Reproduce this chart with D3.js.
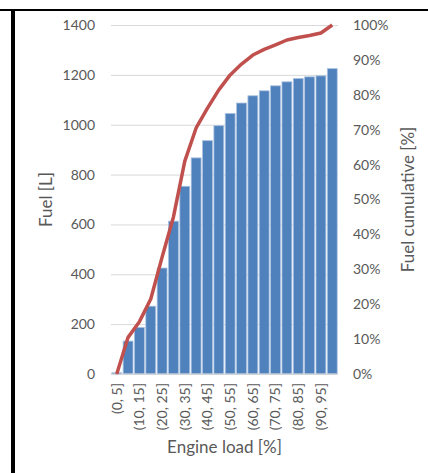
<!DOCTYPE html>
<html>
<head>
<meta charset="utf-8">
<script src="https://cdn.jsdelivr.net/npm/d3@7"></script>
<style>
  html, body { margin: 0; padding: 0; background: #fff; }
  svg { display: block; }
</style>
</head>
<body>
<svg id="chart" width="428" height="473"></svg>
<script>
// ---- data ----
const categories = ["(0, 5]", "(5, 10]", "(10, 15]", "(15, 20]", "(20, 25]", "(25, 30]", "(30, 35]", "(35, 40]",
  "(40, 45]", "(45, 50]", "(50, 55]", "(55, 60]", "(60, 65]", "(65, 70]", "(70, 75]", "(75, 80]",
  "(80, 85]", "(85, 90]", "(90, 95]", "(95, 100]"];
const fuelValues = [5, 132, 187, 272, 425, 613, 753, 867, 936, 996, 1045, 1087, 1116, 1136, 1156, 1172, 1185, 1192, 1196, 1225];
const cumulativeValues = [0, 10.5, 15, 21.5, 33.5, 45, 61, 70.5, 76.2, 81.4, 85.7, 88.8, 91.4, 93, 94.3, 95.7, 96.4, 97, 97.7, 100];
const leftTicks = [0, 200, 400, 600, 800, 1000, 1200, 1400];
const rightTicks = [0, 10, 20, 30, 40, 50, 60, 70, 80, 90, 100];

// ---- layout ----
const svg = d3.select("#chart");
const font = "Lato, 'Open Sans', sans-serif";
const textColor = "#595959";
const plot = { left: 111, right: 338, top: 25, bottom: 374 };

// frame lines
svg.append("line").attr("x1", 0).attr("x2", 428).attr("y1", 10).attr("y2", 10)
  .attr("stroke", "#000").attr("stroke-width", 2);
svg.append("line").attr("x1", 13).attr("x2", 13).attr("y1", 10).attr("y2", 473)
  .attr("stroke", "#000").attr("stroke-width", 4);

const x = d3.scaleBand().domain(categories).range([plot.left, plot.right]).paddingInner(0.13).paddingOuter(0.07);
const yL = d3.scaleLinear().domain([0, 1400]).range([plot.bottom, plot.top]);
const yR = d3.scaleLinear().domain([0, 100]).range([plot.bottom, plot.top]);

// gridlines
const grid = svg.append("g")
  .attr("transform", `translate(${plot.left},0)`)
  .call(d3.axisLeft(yL).tickValues(leftTicks).tickSize(-(plot.right - plot.left)).tickFormat(""));
grid.select(".domain").remove();
grid.selectAll(".tick line").attr("stroke", "#D9D9D9").attr("stroke-width", 1);

// left axis labels
const axL = svg.append("g")
  .attr("transform", `translate(${plot.left},0)`)
  .call(d3.axisLeft(yL).tickValues(leftTicks).tickSize(0).tickPadding(16).tickFormat(d3.format("d")));
axL.select(".domain").remove();
axL.selectAll("text").attr("font-family", font).attr("font-size", 14).attr("fill", textColor);

// right axis labels
const axR = svg.append("g")
  .attr("transform", `translate(${plot.right},0)`)
  .call(d3.axisRight(yR).tickValues(rightTicks).tickSize(0).tickPadding(15).tickFormat(d => d + "%"));
axR.select(".domain").remove();
axR.selectAll("text").attr("font-family", font).attr("font-size", 14).attr("fill", textColor);

// bars
svg.append("g").selectAll("rect").data(fuelValues).join("rect")
  .attr("x", (d, i) => x(categories[i]))
  .attr("width", x.bandwidth())
  .attr("y", d => yL(d))
  .attr("height", d => yL(0) - yL(d))
  .attr("fill", "#4F81BD")
  .attr("stroke", "#A9C1E0")
  .attr("stroke-width", 0.8);

// x-axis baseline
svg.append("line").attr("x1", plot.left).attr("x2", plot.right).attr("y1", plot.bottom).attr("y2", plot.bottom)
  .attr("stroke", "#D9D9D9").attr("stroke-width", 1);

// x axis labels (every other)
const axX = svg.append("g")
  .attr("transform", `translate(0,${plot.bottom})`)
  .call(d3.axisBottom(x).tickValues(categories.filter((c, i) => i % 2 === 0)).tickSize(0).tickPadding(0));
axX.select(".domain").remove();
axX.selectAll("text")
  .attr("font-family", font).attr("font-size", 14).attr("fill", textColor)
  .attr("transform", "rotate(-90)")
  .attr("text-anchor", "end")
  .attr("x", -9).attr("y", 0).attr("dy", "0.35em");

// cumulative line
const line = d3.line()
  .x((d, i) => x(categories[i]) + x.bandwidth() / 2)
  .y(d => yR(d));
svg.append("path").datum(cumulativeValues)
  .attr("d", line)
  .attr("fill", "none")
  .attr("stroke", "#C0504D")
  .attr("stroke-width", 3.5)
  .attr("stroke-linejoin", "round");

// axis titles
svg.append("text")
  .attr("x", (plot.left + plot.right) / 2).attr("y", 453)
  .attr("text-anchor", "middle")
  .attr("font-family", font).attr("font-size", 17).attr("fill", textColor)
  .text("Engine load [%]");
svg.append("text")
  .attr("transform", `translate(52,${(plot.top + plot.bottom) / 2}) rotate(-90)`)
  .attr("text-anchor", "middle")
  .attr("font-family", font).attr("font-size", 17).attr("fill", textColor)
  .text("Fuel [L]");
svg.append("text")
  .attr("transform", `translate(414,${(plot.top + plot.bottom) / 2}) rotate(-90)`)
  .attr("text-anchor", "middle")
  .attr("font-family", font).attr("font-size", 17).attr("fill", textColor)
  .text("Fuel cumulative [%]");
</script>
</body>
</html>
